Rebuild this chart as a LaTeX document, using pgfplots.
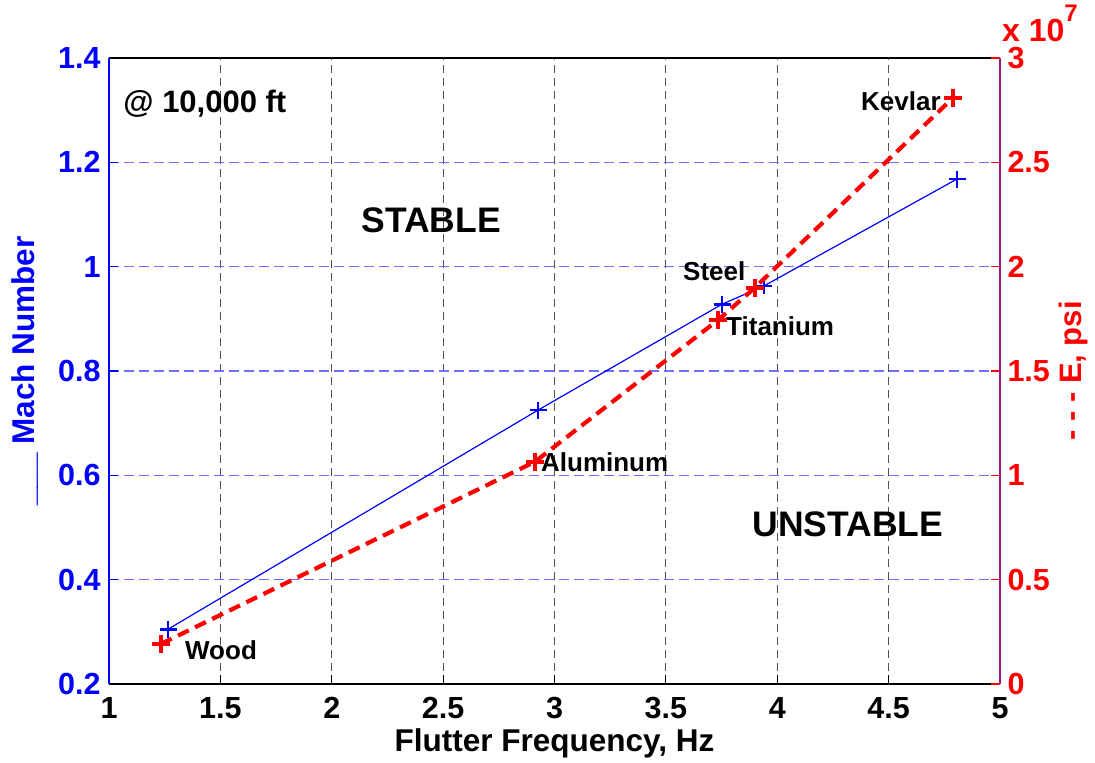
\documentclass[border=0pt]{standalone}
\usepackage{fontspec}
\setmainfont{Liberation Sans}
\usepackage{pgfplots}
\pgfplotsset{compat=1.18}
\definecolor{mblue}{rgb}{0,0,1}
\definecolor{mred}{rgb}{1,0,0}
\definecolor{mpurple}{RGB}{160,20,130}
\definecolor{gridblue}{RGB}{110,110,255}
\definecolor{gridgray}{RGB}{80,80,80}
\newcommand{\fs}[1]{\fontsize{#1}{#1}\selectfont\bfseries}

\pgfplotstableread{
x y
1.265 0.305
2.926 0.725
3.752 0.928
3.940 0.963
4.807 1.168
}\machdata

\pgfplotstableread{
x y
1.233 0.192
2.912 1.065
3.734 1.744
3.900 1.900
4.790 2.810
}\edata

\begin{document}
\begin{tikzpicture}
\begin{axis}[name=a1, scale only axis, width=891pt, height=626pt,
  xmin=1, xmax=5, ymin=0.2, ymax=1.4,
  xtick={1,1.5,2,2.5,3,3.5,4,4.5,5},
  ytick={0.2,0.4,0.6,0.8,1,1.2,1.4},
  yticklabels={0.2,0.4,0.6,0.8,1,1.2,1.4},
  separate axis lines,
  x axis line style={black, line width=1.5pt},
  y axis line style={mblue, line width=1.5pt},
  xtick pos=left, ytick pos=left, tick align=inside,
  major tick length=9pt,
  xtick style={black, line width=1.2pt},
  ytick style={mblue, line width=1.2pt},
  xmajorgrids, ymajorgrids,
  x grid style={gridgray, line width=1.2pt, dash pattern=on 8pt off 5pt},
  y grid style={gridblue, line width=1.5pt, dash pattern=on 10pt off 5pt},
  tick label style={font=\fs{30.5}},
  xticklabel style={black, yshift=-10pt},
  yticklabel style={mblue, xshift=-5pt},
  /pgf/number format/assume math mode=true,
  xlabel={Flutter Frequency, Hz},
  xlabel style={font=\fs{31.5}, black, at={(axis description cs:0.5,-0.1086)}, anchor=base},
  ylabel={\_\_\_ Mach Number},
  ylabel style={font=\fs{31.5}, mblue, at={(axis description cs:-0.0831,0.5)}, anchor=base},
]
\addplot[mblue, line width=1.2pt, mark=+, mark size=8.5pt, mark options={solid, line width=2.6pt}] table {\machdata};
\end{axis}

\begin{axis}[scale only axis, width=891pt, height=626pt,
  xmin=1, xmax=5, ymin=0, ymax=3,
  axis x line=none, axis y line*=right,
  axis line style={-},
  y axis line style={mpurple, line width=1.6pt},
  ytick={0,0.5,1,1.5,2,2.5,3},
  yticklabels={0,0.5,1,1.5,2,2.5,3},
  ytick pos=right, yticklabel pos=right, tick align=inside,
  major tick length=9pt,
  ytick style={mred, line width=1.2pt},
  tick label style={font=\fs{30.5}, mred},
  yticklabel style={xshift=4pt},
  /pgf/number format/assume math mode=true,
  ylabel={- - - E, psi},
  ylabel style={font=\fs{31}, mred, at={(axis description cs:1.092,0.5)}, anchor=base},
  clip=false,
]
\addplot[mred, line width=4.2pt, dash pattern=on 12pt off 7pt, mark=+, mark size=9pt, mark options={solid, line width=4pt}] table {\edata};
\node[anchor=base west, font=\fs{31}, black] at (axis cs:1.049,2.741) {@ 10,000 ft};
\node[anchor=base west, font=\fs{35.5}, black] at (axis cs:2.118,2.166) {STABLE};
\node[anchor=base west, font=\fs{35.5}, black] at (axis cs:3.873,0.7045) {UNSTABLE};
\node[anchor=base west, font=\fs{26}, black, inner sep=0pt] at (axis cs:4.376,2.750) {Kevlar};
\node[anchor=base west, font=\fs{26}, black, inner sep=0pt] at (axis cs:3.577,1.936) {Steel};
\node[anchor=base west, font=\fs{26}, black, inner sep=0pt] at (axis cs:3.770,1.6725) {Titanium};
\node[anchor=base west, font=\fs{26}, black, inner sep=0pt] at (axis cs:2.939,1.016) {Aluminum};
\node[anchor=base west, font=\fs{26}, black, inner sep=0pt] at (axis cs:1.341,0.1198) {Wood};
\node[anchor=base west, font=\fs{32}, mred, inner sep=0pt] at (axis description cs:1.0022,1.0256) {x 10\raisebox{20pt}{\fs{24}7}};
\end{axis}
\pgfresetboundingbox
\path[use as bounding box] ([shift={(-109pt,-79pt)}]a1.south west) rectangle ([shift={(95pt,58pt)}]a1.north east);
\end{tikzpicture}
\end{document}
